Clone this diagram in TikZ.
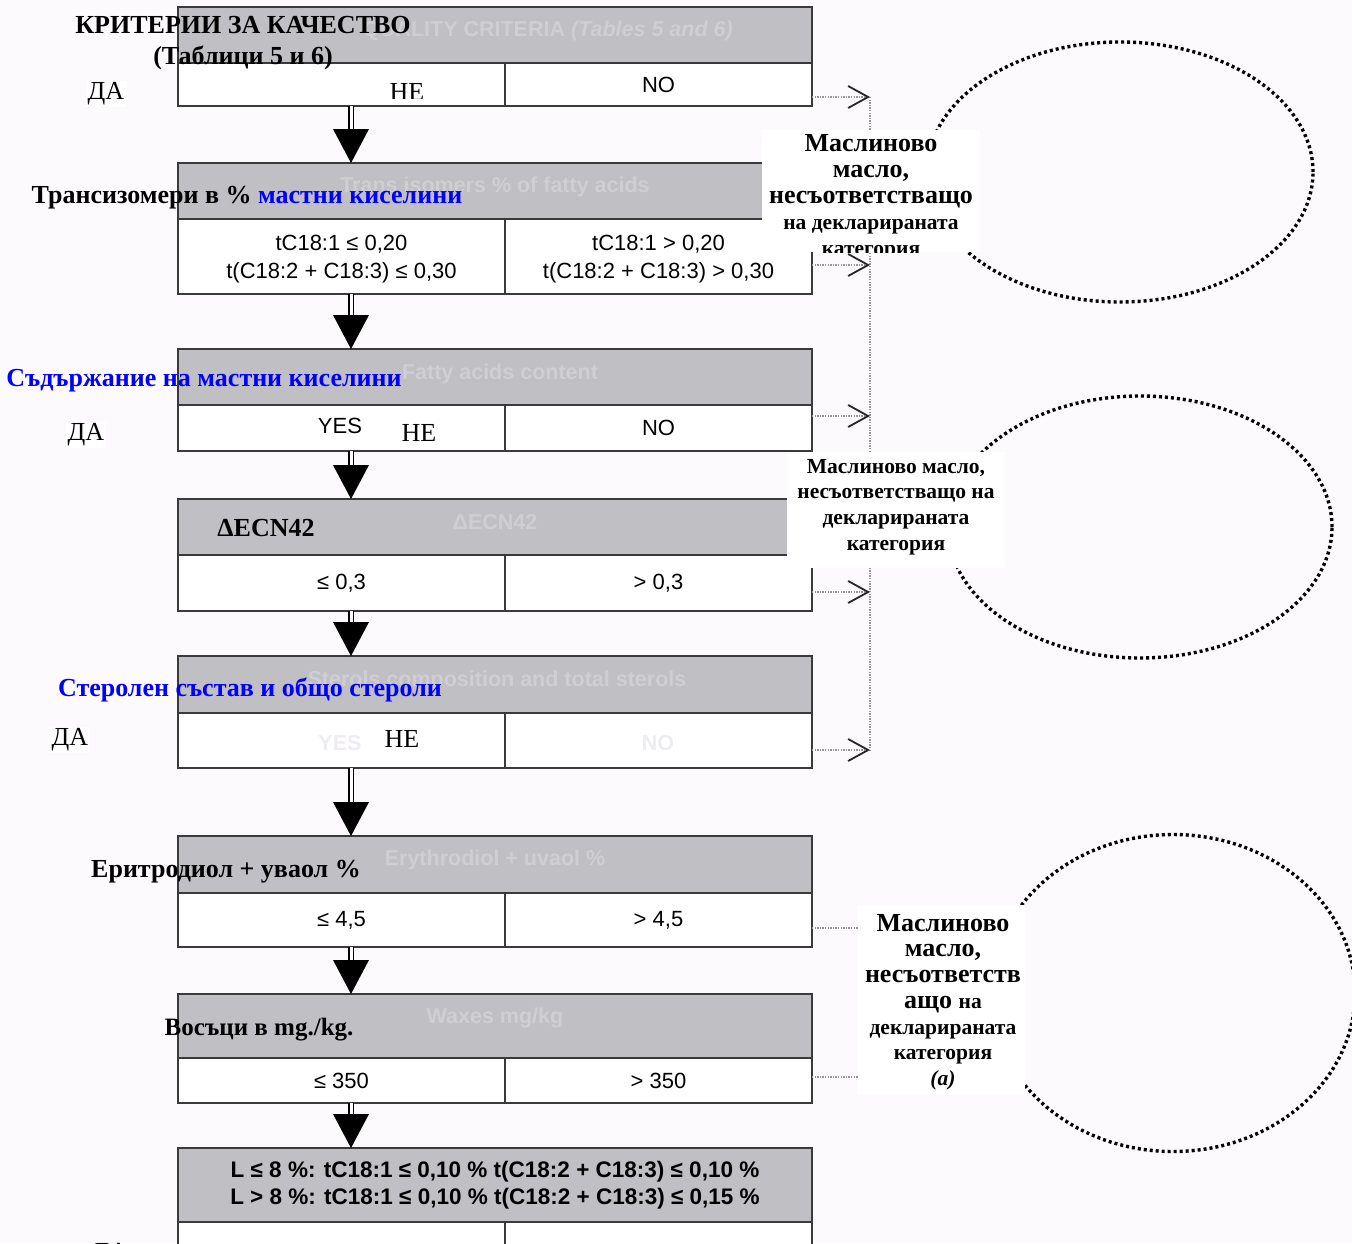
\documentclass[tikz,border=0pt]{standalone}
\usepackage{fontspec}
\setmainfont{Liberation Serif}
\newfontfamily\arialf{Liberation Sans}
\usetikzlibrary{arrows.meta,calc,shapes.geometric}

\definecolor{bgc}{RGB}{252,250,252}
\definecolor{hdr}{RGB}{192,191,195}
\definecolor{ghostc}{RGB}{207,206,210}
\definecolor{ghostw}{RGB}{238,236,240}
\definecolor{framec}{RGB}{58,58,58}
\definecolor{dotc}{RGB}{150,150,150}
\definecolor{lblue}{RGB}{0,0,255}

\newcommand\sanstxt{\arialf\fontsize{22}{28}\selectfont}
\newcommand\ghostfont{\arialf\bfseries\fontsize{21.5}{24}\selectfont}
\newcommand\serifbig{\bfseries\fontsize{26}{31}\selectfont}
\newcommand\serifreg{\fontsize{26}{30}\selectfont}
% struts for the label boxes
\newcommand\stA{\rule[-7pt]{0pt}{26pt}}
\newcommand\stB{\rule[-7.7pt]{0pt}{25.7pt}}
\newcommand\bigL{\fontsize{26}{0}\selectfont}
\newcommand\smlL{\fontsize{21.5}{0}\selectfont}

\newcommand\flowdown[2]{%
  \draw[shaft] ($(#1.south west)+(173,0)$) -- ($(#2.north west)+(173,-33)$);
  \fill[black] ($(#2.north west)+(173,0)$) -- ++(-18,-34) -- ++(36,0) -- cycle;}

\begin{document}
\begin{tikzpicture}[x=1pt,y=-1pt,
  head/.style={draw=framec,line width=2pt,fill=hdr,minimum width=634pt,inner sep=0pt,outer sep=0pt,anchor=north west},
  lcell/.style={draw=framec,line width=1.8pt,fill=white,minimum width=327pt,inner sep=0pt,outer sep=0pt,anchor=north west,font=\sanstxt,align=center},
  rcell/.style={lcell,minimum width=307pt},
  ghost/.style={text=ghostc,font=\ghostfont,inner sep=0pt},
  lbl/.style={font=\serifbig,inner sep=0pt,align=center},
  yesno/.style={font=\serifreg,inner sep=2pt,fill=white},
  shaft/.style={draw=black,double=white,double distance=3pt,line width=1.6pt},
  dotconn/.style={draw=dotc,line width=1.3pt,dash pattern=on 1.3pt off 1.3pt},
  dotarr/.style={dotconn,-{Straight Barb[length=20pt,width=22pt,line width=1.8pt,color=black!85]}},
  ellip/.style={ellipse,draw=black,line width=3.4pt,dash pattern=on 3pt off 3pt,inner sep=0pt},
  whitebox/.style={fill=white,inner sep=0pt},
  boxtext/.style={inner sep=0pt,align=flush center,text width=240pt,font={\bfseries\bigL\lineskip=0pt\lineskiplimit=0pt\parskip=0pt}},
]
\clip (0,0) rectangle (1352,1243);
\fill[bgc] (0,0) rectangle (1352,1243);

% ellipses
\node[ellip,minimum width=386pt,minimum height=260pt] (e1) at (1120,172) {};
\node[ellip,minimum width=384pt,minimum height=262pt] (e2) at (1140,527) {};
\node[ellip,minimum width=364pt,minimum height=317pt] (e3) at (1173,993) {};

% blocks
\node[head,minimum height=56pt] (h1) at (178,7) {};
\node[lcell,minimum height=43pt] (l1) at (178,63) {};
\node[rcell,minimum height=43pt] (r1) at (505,63) {NO};

\node[head,minimum height=56pt] (h2) at (178,163) {};
\node[lcell,minimum height=75pt,text depth=-2pt] (l2) at (178,219) {tC18:1 ≤ 0,20\\t(C18:2 + C18:3) ≤ 0,30};
\node[rcell,minimum height=75pt,text depth=-1pt] (r2) at (505,219) {tC18:1 > 0,20\\t(C18:2 + C18:3) > 0,30};

\node[head,minimum height=56pt] (h3) at (178,349) {};
\node[lcell,minimum height=46pt] (l3) at (178,405) {};
\node[rcell,minimum height=46pt] (r3) at (505,405) {NO};

\node[head,minimum height=56pt] (h4) at (178,499) {};
\node[lcell,minimum height=56pt] (l4) at (178,555) {≤ 0,3};
\node[rcell,minimum height=56pt] (r4) at (505,555) {> 0,3};

\node[head,minimum height=57pt] (h5) at (178,656) {};
\node[lcell,minimum height=55pt] (l5) at (178,713) {};
\node[rcell,minimum height=55pt] (r5) at (505,713) {};

\node[head,minimum height=57pt] (h6) at (178,836) {};
\node[lcell,minimum height=54pt] (l6) at (178,893) {≤ 4,5};
\node[rcell,minimum height=54pt] (r6) at (505,893) {> 4,5};

\node[head,minimum height=64pt] (h7) at (178,994) {};
\node[lcell,minimum height=45pt] (l7) at (178,1058) {≤ 350};
\node[rcell,minimum height=45pt] (r7) at (505,1058) {> 350};

\node[head,minimum height=74pt,font={\arialf\bfseries\fontsize{22.5}{27}\selectfont},align=center] (h8) at (178,1148)
  {L ≤ 8 \%: tC18:1 ≤ 0,10 \% t(C18:2 + C18:3) ≤ 0,10 \%\\L > 8 \%: tC18:1 ≤ 0,10 \% t(C18:2 + C18:3) ≤ 0,15 \%};
\node[lcell,minimum height=60pt] (l8) at (178,1222) {};
\node[rcell,minimum height=60pt] (r8) at (505,1222) {};

% ghost (English) texts
\node[ghost] (g1) at (548,31) {QUALITY CRITERIA \textit{(Tables 5 and 6)}};
\node[ghost] (g2) at (495,187) {Trans isomers \% of fatty acids};
\node[ghost] (g3) at (500,374) {Fatty acids content};
\node[ghost] (g4) at (495,522) {ΔECN42};
\node[ghost] (g5) at (497,681) {Sterols composition and total sterols};
\node[ghost] (g6) at (495,860) {Erythrodiol + uvaol \%};
\node[ghost] (g7) at (495,1018) {Waxes mg/kg};
\node[ghost,text=ghostw] (g5y) at (340,743) {YES};
\node[ghost,text=ghostw] (g5n) at (658,743) {NO};

% YES in block 3
\node[font=\sanstxt,inner sep=0pt] (y3) at (340,426) {YES};

% flow arrows
\flowdown{l1}{h2}
\flowdown{l2}{h3}
\flowdown{l3}{h4}
\flowdown{l4}{h5}
\flowdown{l5}{h6}
\flowdown{l6}{h7}
\flowdown{l7}{h8}

% dotted connectors
\coordinate (c1) at (870,97);
\coordinate (c2) at (870,265);
\coordinate (c3) at (870,416);
\coordinate (c4) at (870,592);
\coordinate (c5) at (870,750);
\coordinate (c6) at (870,928);
\coordinate (c7) at (870,1077);
\draw[dotconn] (c1) -- (c5);
\draw[dotarr] (r1.east |- c1) -- (c1);
\draw[dotarr] (r2.east |- c2) -- (c2);
\draw[dotarr] (r3.east |- c3) -- (c3);
\draw[dotarr] (r4.east |- c4) -- (c4);
\draw[dotarr] (r5.east |- c5) -- (c5);
\draw[dotconn] (r6.east |- c6) -- (c6);
\draw[dotconn] (r7.east |- c7) -- (c7);

% white label boxes
\begin{scope}
\clip (762,130) rectangle (980,252);
\fill[white] (762,130) rectangle (980,252);
\node[boxtext,anchor=north] (t1) at (871,132) {\stA Маслиново\\\stA масло,\\\stA несъответстващо\\\stA{\smlL на декларираната}\\\stA{\smlL категория}};
\end{scope}
\node[whitebox,minimum width=218pt,minimum height=116pt] (b2) at (896,510) {};
\node[boxtext,anchor=north] (t2) at (896,455) {\smlL\stB Маслиново масло,\\\stB несъответстващо на\\\stB декларираната\\\stB категория};
\node[whitebox,minimum width=167pt,minimum height=190pt] (b3) at (941.5,1000) {};
\node[boxtext,anchor=north] (t3) at (943,913) {\stB Маслиново\\\stB масло,\\\stB несъответств\\\stB ащо {\smlL на}\\\stB{\smlL декларираната}\\\stB{\smlL категория}\\\stB{\smlL\itshape (a)}};

% Bulgarian overlay labels
\node[lbl] (k1) at (243,43) {КРИТЕРИИ ЗА КАЧЕСТВО\\(Таблици 5 и 6)};
\node[lbl] (k2) at (247,198) {Трансизомери в \% \textcolor{lblue}{мастни киселини}};
\node[lbl,text=lblue] (k3) at (204,381) {Съдържание на мастни киселини};
\node[lbl] (k4) at (266,528) {ΔECN42};
\node[lbl,text=lblue] (k5) at (250,690) {Стеролен състав и общо стероли};
\node[lbl] (k6) at (226,872) {Еритродиол + уваол \%};
\node[lbl,font={\bfseries\fontsize{25}{30}\selectfont}] (k7) at (259,1030) {Восъци в mg./kg.};

% ДА / НЕ
\node[yesno] (da1) at (106,94) {ДА};
\begin{scope}
\clip (320,66) rectangle (480,98);
\node[yesno,inner sep=0pt] (ne1) at (407,92) {НЕ};
\end{scope}
\node[yesno] (da3) at (86,435) {ДА};
\begin{scope}
\clip (395,410) rectangle (470,441);
\node[yesno,inner sep=0pt] (ne3) at (419,433) {НЕ};
\end{scope}
\node[yesno] (da5) at (70,740) {ДА};
\node[yesno,fill=none] (ne5) at (402,739) {НЕ};
\node[yesno,fill=none] (da8) at (110,1255) {ДА};
\end{tikzpicture}
\end{document}
